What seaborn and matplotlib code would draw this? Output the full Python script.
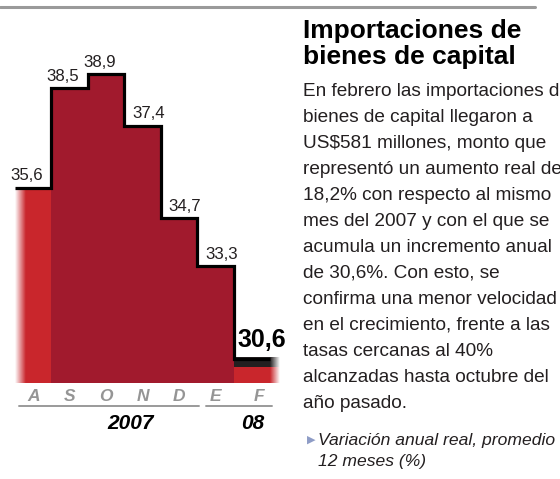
import numpy as np
import pandas as pd
import matplotlib
matplotlib.use("Agg")
import matplotlib.pyplot as plt
import seaborn as sns
from matplotlib import font_manager
from matplotlib.lines import Line2D

# Datos del gráfico
months = ["A", "S", "O", "N", "D", "E", "F"]
values = [35.6, 38.5, 38.9, 37.4, 34.7, 33.3, 30.6]
year_labels = ["2007", "08"]

title_lines = ["Importaciones de", "bienes de capital"]
body_lines = [
    "En febrero las importaciones de",
    "bienes de capital llegaron a",
    "US$581 millones, monto que",
    "representó un aumento real de",
    "18,2% con respecto al mismo",
    "mes del 2007 y con el que se",
    "acumula un incremento anual",
    "de 30,6%. Con esto, se",
    "confirma una menor velocidad",
    "en el crecimiento, frente a las",
    "tasas cercanas al 40%",
    "alcanzadas hasta octubre del",
    "año pasado.",
]
note_lines = ["Variación anual real, promedio", "12 meses (%)"]

# Estilo
sns.set_style("white")
installed = {f.name for f in font_manager.fontManager.ttflist}
narrow = "Liberation Sans Narrow" in installed
plt.rcParams['font.family'] = ['Liberation Sans', 'DejaVu Sans']
cond_family = ['Liberation Sans Narrow', 'Liberation Sans'] if narrow else ['Liberation Sans']
cond_scale = 1.0 if narrow else 0.86

light_red = "#c9262c"
dark_red = "#a11a2d"
band_color = "#231f20"
grey = "#9a9a9a"
bar_colors = [light_red] + [dark_red] * 5 + [light_red]

W, H = 560, 479
fig = plt.figure(figsize=(W / 100, H / 100), dpi=100)
ax = fig.add_axes([15 / W, 96 / H, 264.1 / W, 346.4 / H])

df = pd.DataFrame({"mes": months, "valor": values})
sns.barplot(data=df, x="mes", y="valor", hue="mes", palette=dict(zip(months, bar_colors)),
            width=1, saturation=1, legend=False, linewidth=0, ax=ax, zorder=1)

xlo, xhi, ylo, yhi = -0.5, 6.75, 29.9, 40.0

# Banda oscura en el último mes
band_h = 0.29
last = len(values) - 1
ax.bar(last, band_h, bottom=values[-1] - 0.24, width=1, color=band_color, linewidth=0, zorder=2)

# Difuminado a la izquierda del primer mes y a la derecha del último
grad = np.linspace(1, 0, 50)
white = np.ones((1, 50, 4))
white[..., 3] = grad
ax.imshow(white, extent=[-0.5, -0.2, ylo, values[0]], aspect="auto", zorder=3)
for col, y0, y1 in [(light_red, ylo, values[-1] - 0.24), (band_color, values[-1] - 0.24, values[-1] - 0.24 + band_h)]:
    rgba = np.zeros((1, 50, 4))
    rgba[..., :3] = matplotlib.colors.to_rgb(col)
    rgba[..., 3] = grad
    ax.imshow(rgba, extent=[6.5, 6.75, y0, y1], aspect="auto", zorder=2)

# Línea escalonada
edges = np.arange(len(values) + 1) - 0.5
ax.stairs(values, edges, baseline=None, color="black", linewidth=2.3, zorder=4)

# Etiquetas de valores
for i, v in enumerate(values[:-1]):
    rising = i == 0 or v > values[i - 1]
    dx = -0.18 if rising else 0.17
    ax.text(i + dx, v + 0.22, f"{v:.1f}".replace(".", ","), ha="center", va="baseline",
            fontsize=14 * cond_scale, family=cond_family, color="#231f20")
ax.text(last - 0.38, values[-1] + 0.34, f"{values[-1]:.1f}".replace(".", ","), ha="left",
        va="baseline", fontsize=18, fontweight="bold", color="black")

ax.set_xlim(xlo, xhi)
ax.set_ylim(ylo, yhi)
ticks = list(range(len(months)))
ticks[-1] = last + 0.2
ax.set_xticks(ticks)
ax.set_xticklabels(months, color="#959595", fontstyle="italic", fontweight="bold",
                   fontsize=12.5, family=cond_family)
ax.tick_params(axis="x", length=0, pad=4)
ax.set_yticks([])
ax.set_xlabel("")
ax.set_ylabel("")
sns.despine(ax=ax, left=True, bottom=True)

# Líneas y etiquetas de los años
for (x0, x1), xc, lab in zip([(-0.39, 4.55), (4.74, 6.55)], [2.68, 6.03], year_labels):
    ax.plot([x0, x1], [29.23, 29.23], color=grey, linewidth=1.4, clip_on=False)
    ax.text(xc, 28.72, lab, ha="center", va="center", fontsize=15, fontweight="bold",
            fontstyle="italic", color="black")

# Regla superior
fig.add_artist(Line2D([0, 535 / W], [1 - 6.5 / H] * 2, color=grey, linewidth=2.2))

# Texto de la derecha
tx = 303 / W
for k, line in enumerate(title_lines):
    fig.text(tx, 1 - (38 + 26 * k) / H, line, fontsize=19, fontweight="bold", va="baseline", color="black")
for k, line in enumerate(body_lines):
    fig.text(tx, 1 - (96 + 26 * k) / H, line, fontsize=13.7, va="baseline", color="#231f20")
fig.text(307 / W, 1 - 443 / H, "▶", fontsize=8, va="baseline", color="#8e9cc6", family=["DejaVu Sans"])
for k, line in enumerate(note_lines):
    fig.text(318 / W, 1 - (445 + 21 * k) / H, line, fontsize=12.6, fontstyle="italic",
             va="baseline", color="#231f20")

fig.savefig("out.png", dpi=100)
